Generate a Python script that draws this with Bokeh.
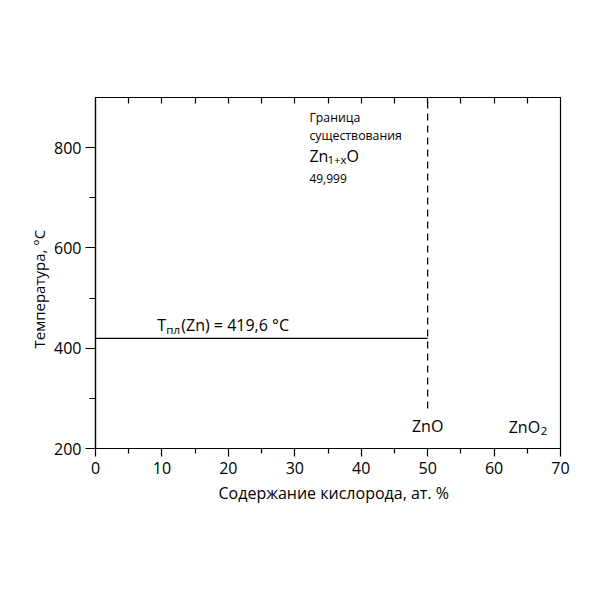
from bokeh.plotting import figure
from bokeh.models import LinearAxis, FixedTicker, Label, Range1d, CustomJSTickFormatter, Title
from bokeh.embed import file_html
from bokeh.resources import INLINE

# data
x_ticks = [0, 10, 20, 30, 40, 50, 60, 70]
x_minor = [5, 15, 25, 35, 45, 55, 65]
y_ticks = [200, 400, 600, 800]
y_minor = [300, 500, 700]
top_ticks = [5, 10, 15, 20, 25, 30, 35, 40, 45, 50, 55, 60, 65]
melt_x = [0, 50]
melt_y = [419.6, 419.6]
zno_x = [50, 50]
zno_y = [280, 900]

FONT = "Open Sans"

p = figure(width=592, height=592, output_backend="svg", toolbar_location=None,
           x_range=Range1d(0, 70), y_range=Range1d(200, 900),
           x_axis_location=None, y_axis_location=None,
           min_border_left=95, min_border_right=32, min_border_top=97, min_border_bottom=144)
p.grid.visible = False
p.outline_line_color = "black"
p.outline_line_width = 1.2
p.background_fill_color = "white"
p.border_fill_color = "white"

xa = LinearAxis(ticker=FixedTicker(ticks=x_ticks, minor_ticks=x_minor))
xa.major_tick_in = 0
xa.major_tick_out = 8
xa.minor_tick_in = 0
xa.minor_tick_out = 5
p.add_layout(xa, "below")

ya = LinearAxis(ticker=FixedTicker(ticks=y_ticks, minor_ticks=y_minor))
ya.major_tick_in = 0
ya.major_tick_out = 10
ya.minor_tick_in = 0
ya.minor_tick_out = 6
p.add_layout(ya, "left")

ta = LinearAxis(ticker=FixedTicker(ticks=top_ticks, minor_ticks=[]),
                formatter=CustomJSTickFormatter(code="return ''"))
ta.major_tick_in = 6
ta.major_tick_out = 0
ta.minor_tick_in = 0
ta.minor_tick_out = 0
ta.major_label_standoff = 0
p.add_layout(ta, "above")

for a in [xa, ya, ta]:
    a.axis_line_color = "black"
    a.axis_line_width = 1.2
    a.major_tick_line_color = "black"
    a.major_tick_line_width = 1.2
    a.minor_tick_line_color = "black"
    a.minor_tick_line_width = 1.2
for a in [xa, ya]:
    a.major_label_text_font = FONT
    a.major_label_text_font_size = "16px"
    a.major_label_text_color = "black"
xa.major_label_standoff = 5
ya.major_label_standoff = 4

# axis titles, off-centre as in the reference
yt = Title(text="Температура, °С", align="left", offset=100,
           text_font=FONT, text_font_size="15px", text_font_style="normal",
           text_color="black", standoff=6)
p.add_layout(yt, "left")
xt = Title(text="Содержание кислорода, ат. %", align="left", offset=123,
           text_font=FONT, text_font_size="16px", text_font_style="normal",
           text_color="black", standoff=6)
p.add_layout(xt, "below")

p.line(melt_x, melt_y, line_color="black", line_width=1.2)
p.line(zno_x, zno_y, line_color="black", line_width=1.2, line_dash="7 5")

def lab(x, y, t, size, xo=0, yo=0, align="left"):
    p.add_layout(Label(x=x, y=y, text=t, x_offset=xo, y_offset=yo,
                       text_font=FONT, text_font_size=size, text_color="black",
                       text_baseline="middle", text_align=align))

# T_пл(Zn) = 419,6 °C
lab(9.3, 446, "T", "16px")
lab(9.3, 446, "пл", "11.5px", xo=9, yo=-4)
lab(9.3, 446, "(Zn) = 419,6 °C", "16px", xo=24)

lab(50, 244, "ZnO", "16px", align="center")
lab(62.2, 242, "ZnO", "16px")
lab(62.2, 242, "2", "11.5px", xo=32, yo=-4)

lab(32.2, 860, "Граница", "12.3px")
lab(32.2, 824, "существования", "12.3px")
lab(32.2, 784, "Zn", "16px")
lab(32.2, 784, "1+x", "11.5px", xo=18, yo=-4)
lab(32.2, 784, "O", "16px", xo=37)
lab(32.2, 738, "49,999", "12px")

open("out.html", "w").write(file_html(p, INLINE))
